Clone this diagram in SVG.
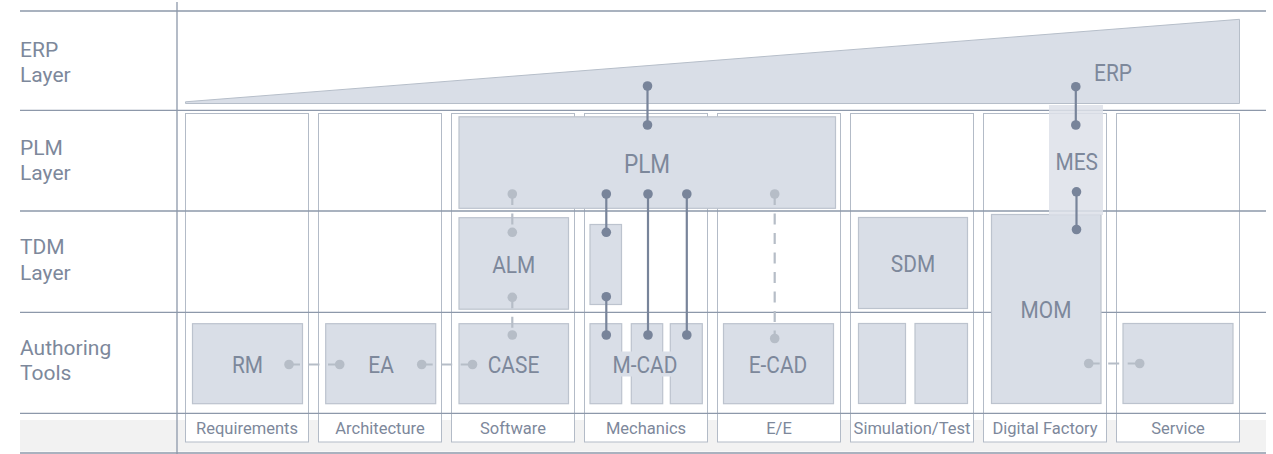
<svg xmlns="http://www.w3.org/2000/svg" width="1273" height="454" viewBox="0 0 1273 454">
  <style>
    text { font-family: Roboto, "Liberation Sans", sans-serif; fill: #7d889b; }
    .lay { font-size: 21px; }
    .foot { font-size: 16.5px; text-anchor: middle; }
    .lbl { font-size: 24px; text-anchor: middle; transform-box: fill-box; transform-origin: center; transform: scaleX(0.87); }
    .big { font-size: 26px; }
    .grid { stroke: #8d98aa; stroke-width: 1.3; fill: none; }
    .col { fill: #ffffff; stroke: #b3bbc7; stroke-width: 1; }
    .box { fill: #d9dee7; stroke: #bcc3ce; stroke-width: 1.2; }
    .solid { stroke: #78849a; stroke-width: 2.2; fill: none; }
    .dash { stroke: #b6bdc7; stroke-width: 2.2; fill: none; stroke-dasharray: 11 8.5; }
    .dd { fill: #78849a; }
    .dl { fill: #b6bdc7; }
  </style>

  <!-- footer band -->
  <rect x="20" y="420" width="1246" height="31.5" fill="#f2f2f2"/>

  <!-- domain columns -->
  <g id="columns">
    <rect class="col" x="185.5" y="113.5" width="123" height="328.5"/>
    <rect class="col" x="318.5" y="113.5" width="123" height="328.5"/>
    <rect class="col" x="451.5" y="113.5" width="123" height="328.5"/>
    <rect class="col" x="584.5" y="113.5" width="123" height="328.5"/>
    <rect class="col" x="717.5" y="113.5" width="123" height="328.5"/>
    <rect class="col" x="850.5" y="113.5" width="123" height="328.5"/>
    <rect class="col" x="983.5" y="113.5" width="123" height="328.5"/>
    <rect class="col" x="1116.5" y="113.5" width="123" height="328.5"/>
  </g>

  <!-- layer grid -->
  <g id="grid">
    <line class="grid" x1="20" y1="11" x2="1266" y2="11"/>
    <line class="grid" x1="20" y1="110.3" x2="1266" y2="110.3"/>
    <line class="grid" x1="20" y1="211" x2="1266" y2="211"/>
    <line class="grid" x1="20" y1="312.3" x2="1266" y2="312.3"/>
    <line class="grid" x1="20" y1="413.3" x2="1266" y2="413.3"/>
    <line class="grid" x1="20" y1="453" x2="1266" y2="453"/>
    <line class="grid" x1="177" y1="2" x2="177" y2="454"/>
  </g>

  <!-- layer labels -->
  <g id="layer-labels">
    <text class="lay" x="20" y="57">ERP</text>
    <text class="lay" x="20" y="81.5">Layer</text>
    <text class="lay" x="20" y="155">PLM</text>
    <text class="lay" x="20" y="180">Layer</text>
    <text class="lay" x="20" y="253.5">TDM</text>
    <text class="lay" x="20" y="279.5">Layer</text>
    <text class="lay" x="20" y="354.5">Authoring</text>
    <text class="lay" x="20" y="380">Tools</text>
  </g>

  <!-- domain labels -->
  <g id="domain-labels">
    <text class="foot" x="247" y="433.5">Requirements</text>
    <text class="foot" x="380" y="433.5">Architecture</text>
    <text class="foot" x="513" y="433.5">Software</text>
    <text class="foot" x="646" y="433.5">Mechanics</text>
    <text class="foot" x="779" y="433.5">E/E</text>
    <text class="foot" x="912" y="433.5">Simulation/Test</text>
    <text class="foot" x="1045" y="433.5">Digital Factory</text>
    <text class="foot" x="1178" y="433.5">Service</text>
  </g>

  <g id="erp">
    <polygon points="185.5,101.8 1239.5,19.3 1239.5,103.5 185.5,103.5" fill="#d9dee7" stroke="#b6bec9" stroke-width="1"/>
    <text class="lbl" x="1113" y="81.5">ERP</text>
  </g>

  <g id="plm">
    <rect class="box" x="459" y="116.8" width="376.5" height="91.5"/>
    <text class="lbl big" x="647" y="173">PLM</text>
  </g>

  <g id="alm">
    <rect class="box" x="459" y="217.7" width="109.5" height="91.5"/>
    <text class="lbl" x="513.8" y="273.3">ALM</text>
  </g>

  <g id="mcad-tdm">
    <rect class="box" x="590" y="224.5" width="31.5" height="80"/>
  </g>

  <g id="sdm">
    <rect class="box" x="858.5" y="217.5" width="109" height="91"/>
    <text class="lbl" x="913" y="272.5">SDM</text>
  </g>

  <g id="mom">
    <rect class="box" x="991.5" y="214.5" width="109.5" height="189"/>
    <text class="lbl" x="1046" y="318.5">MOM</text>
  </g>

  <g id="mes">
    <rect x="1049" y="105" width="54" height="110" fill="#dde1e9" fill-opacity="0.85"/>
    <text class="lbl" x="1076.7" y="170">MES</text>
  </g>

  <g id="rm">
    <rect class="box" x="192.5" y="323.7" width="110" height="80"/>
    <text class="lbl" x="247.5" y="373.5">RM</text>
  </g>

  <g id="ea">
    <rect class="box" x="325.7" y="323.7" width="110" height="80"/>
    <text class="lbl" x="381" y="373.5">EA</text>
  </g>

  <g id="case">
    <rect class="box" x="459" y="323.7" width="109.5" height="80"/>
    <text class="lbl" x="513.5" y="373.5">CASE</text>
  </g>

  <g id="mcad">
    <rect class="box" x="590" y="323.7" width="31.7" height="80"/>
    <rect class="box" x="631.3" y="323.7" width="31.4" height="80"/>
    <rect class="box" x="670.3" y="323.7" width="32" height="80"/>
    <rect x="612" y="351.5" width="66" height="25" fill="#d9dee7"/>
    <text class="lbl" x="645" y="373">M-CAD</text>
  </g>

  <g id="ecad">
    <rect class="box" x="723.5" y="323.7" width="110" height="80"/>
    <text class="lbl" x="778" y="373.5">E-CAD</text>
  </g>

  <g id="sim">
    <rect class="box" x="858.5" y="323.5" width="47" height="80"/>
    <rect class="box" x="915" y="323.5" width="52.5" height="80"/>
  </g>

  <g id="service">
    <rect class="box" x="1123" y="323.5" width="110" height="80"/>
  </g>

  <!-- connectors -->
  <g id="connectors">
    <!-- solid links -->
    <line class="solid" x1="647.5" y1="86" x2="647.5" y2="125"/>
    <circle class="dd" cx="647.5" cy="86" r="4.8"/>
    <circle class="dd" cx="647.5" cy="125" r="4.8"/>

    <line class="solid" x1="606.3" y1="194" x2="606.3" y2="232.3"/>
    <circle class="dd" cx="606.3" cy="194" r="4.8"/>
    <circle class="dd" cx="606.3" cy="232.3" r="4.8"/>

    <line class="solid" x1="606.3" y1="296.7" x2="606.3" y2="335"/>
    <circle class="dd" cx="606.3" cy="296.7" r="4.8"/>
    <circle class="dd" cx="606.3" cy="335" r="4.8"/>

    <line class="solid" x1="648" y1="194" x2="648" y2="335"/>
    <circle class="dd" cx="648" cy="194" r="4.8"/>
    <circle class="dd" cx="648" cy="335" r="4.8"/>

    <line class="solid" x1="686.8" y1="194" x2="686.8" y2="335"/>
    <circle class="dd" cx="686.8" cy="194" r="4.8"/>
    <circle class="dd" cx="686.8" cy="335" r="4.8"/>

    <line class="solid" x1="1075.8" y1="86.7" x2="1075.8" y2="125"/>
    <circle class="dd" cx="1075.8" cy="86.7" r="4.8"/>
    <circle class="dd" cx="1075.8" cy="125" r="4.8"/>

    <line class="solid" x1="1076.5" y1="191.8" x2="1076.5" y2="229.5"/>
    <circle class="dd" cx="1076.5" cy="191.8" r="4.8"/>
    <circle class="dd" cx="1076.5" cy="229.5" r="4.8"/>

    <!-- dashed links -->
    <line class="dash" x1="512.3" y1="194" x2="512.3" y2="232.3"/>
    <circle class="dl" cx="512.3" cy="194" r="4.8"/>
    <circle class="dl" cx="512.3" cy="232.3" r="4.8"/>

    <line class="dash" x1="512.3" y1="297.3" x2="512.3" y2="335"/>
    <circle class="dl" cx="512.3" cy="297.3" r="4.8"/>
    <circle class="dl" cx="512.3" cy="335" r="4.8"/>

    <line class="dash" x1="774.7" y1="194" x2="774.7" y2="338.5"/>
    <circle class="dl" cx="774.7" cy="194" r="4.8"/>
    <circle class="dl" cx="774.7" cy="338.5" r="4.8"/>

    <line class="dash" x1="289" y1="364.5" x2="339.7" y2="364.5"/>
    <circle class="dl" cx="289" cy="364.5" r="4.8"/>
    <circle class="dl" cx="339.7" cy="364.5" r="4.8"/>

    <line class="dash" x1="421.7" y1="364.5" x2="472.5" y2="364.5"/>
    <circle class="dl" cx="421.7" cy="364.5" r="4.8"/>
    <circle class="dl" cx="472.5" cy="364.5" r="4.8"/>

    <line class="dash" x1="1088.7" y1="363.5" x2="1139.7" y2="363.5"/>
    <circle class="dl" cx="1088.7" cy="363.5" r="4.8"/>
    <circle class="dl" cx="1139.7" cy="363.5" r="4.8"/>
  </g>
</svg>
